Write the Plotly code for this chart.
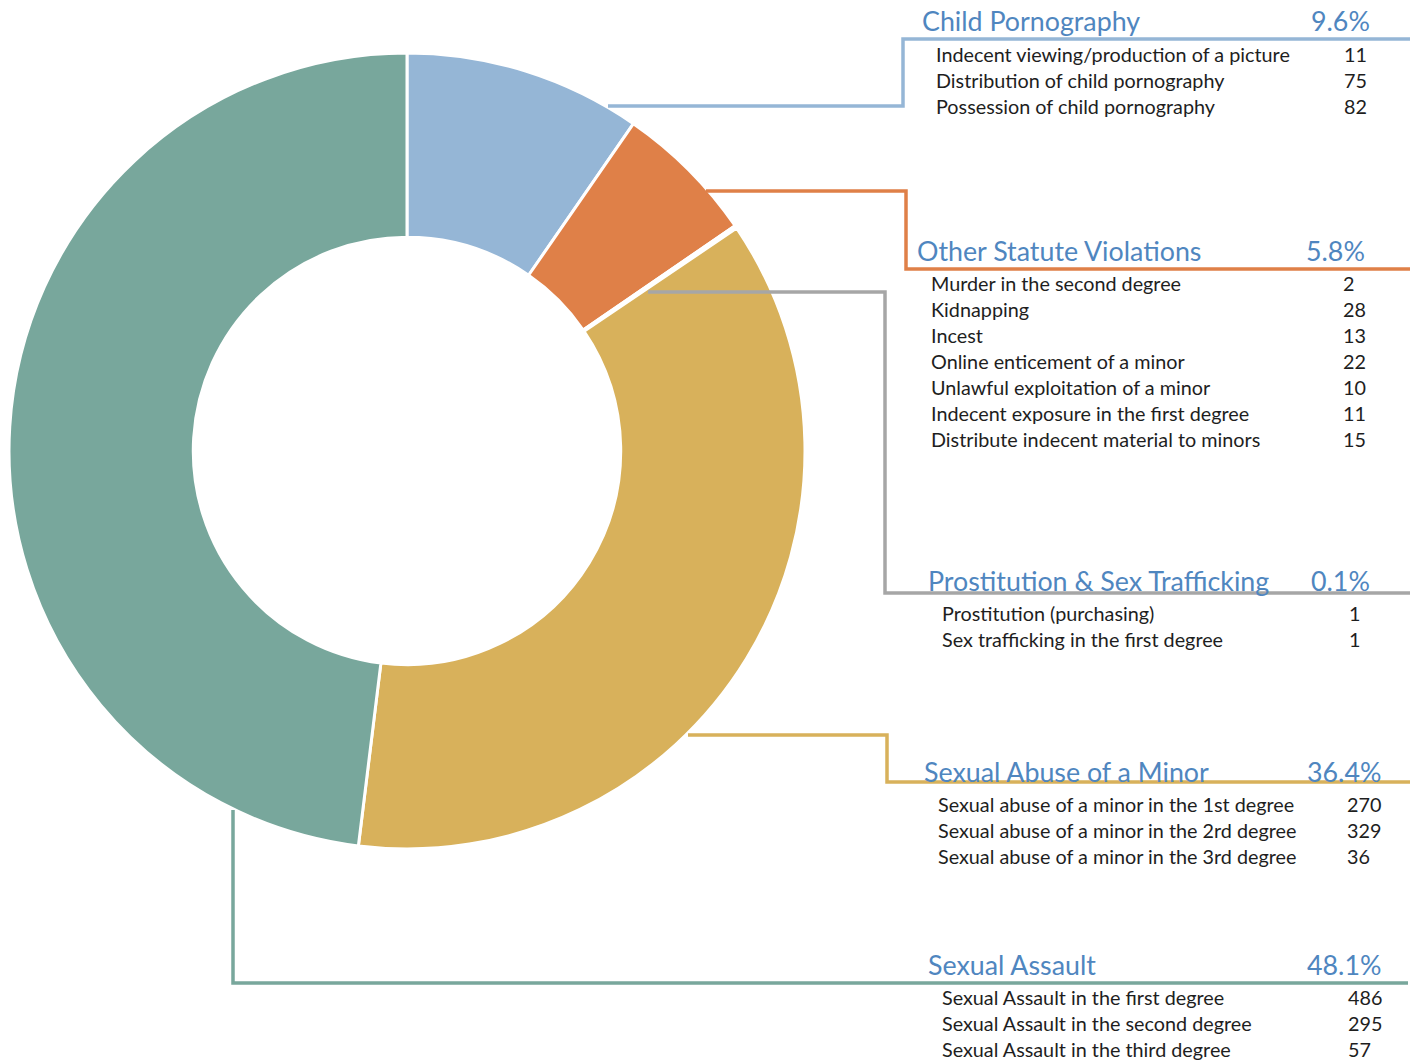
import plotly.graph_objects as go

W, H = 1416, 1064

# Offence groups (clockwise from 12 o'clock) and their detailed counts
groups = ["Child Pornography", "Other Statute Violations", "Prostitution & Sex Trafficking",
          "Sexual Abuse of a Minor", "Sexual Assault"]
group_colors = ["#95b6d6", "#df8048", "#a6a6a6", "#d8b15b", "#78a79c"]

cp_items = ["Indecent viewing/production of a picture", "Distribution of child pornography",
            "Possession of child pornography"]
cp_counts = [11, 75, 82]

other_items = ["Murder in the second degree", "Kidnapping", "Incest", "Online enticement of a minor",
               "Unlawful exploitation of a minor", "Indecent exposure in the first degree",
               "Distribute indecent material to minors"]
other_counts = [2, 28, 13, 22, 10, 11, 15]

prost_items = ["Prostitution (purchasing)", "Sex trafficking in the first degree"]
prost_counts = [1, 1]

sam_items = ["Sexual abuse of a minor in the 1st degree", "Sexual abuse of a minor in the 2rd degree",
             "Sexual abuse of a minor in the 3rd degree"]
sam_counts = [270, 329, 36]

sa_items = ["Sexual Assault in the first degree", "Sexual Assault in the second degree",
            "Sexual Assault in the third degree"]
sa_counts = [486, 295, 57]

item_lists = [cp_items, other_items, prost_items, sam_items, sa_items]
count_lists = [cp_counts, other_counts, prost_counts, sam_counts, sa_counts]
totals = [sum(c) for c in count_lists]
grand = sum(totals)


def px(x):
    return x / W


def py(y):
    return 1 - y / H


FONT = "Lato"
HEAD_COLOR = "#4f86bf"
TEXT_COLOR = "#1e1e1e"
HEAD_SIZE = 26.8
ITEM_SIZE = 19.8

fig = go.Figure()
fig.add_trace(go.Pie(
    labels=groups,
    values=totals,
    sort=False,
    direction="clockwise",
    rotation=0,
    hole=0.537,
    marker=dict(colors=group_colors, line=dict(color="white", width=3)),
    textinfo="none",
    hoverinfo="label+value+percent",
    showlegend=False,
    domain=dict(x=[px(9), px(805)], y=[py(850), py(52)]),
))

# leader-line paths (pixel coords) and label block layout per group
leaders = [
    [(608, 106), (903, 106), (903, 39), (1410, 39)],
    [(706, 191), (906, 191), (906, 269), (1410, 269)],
    [(648, 292), (885, 292), (885, 593), (1410, 593)],
    [(688, 735), (887, 735), (887, 782), (1410, 782)],
    [(233, 810), (233, 983), (1408, 983)],
]
blocks = [  # header left, header y, pct right, item left, first item y, number left
    (922, 21, 1370, 936, 54, 1344),
    (917, 251, 1365, 931, 283, 1343),
    (928, 581, 1370, 942, 613, 1349),
    (924, 772, 1381, 938, 804, 1347),
    (928, 965, 1381, 942, 997, 1348),
]

shapes = []
for pts, col in zip(leaders, group_colors):
    path = "M " + " L ".join(f"{px(x)},{py(y)}" for x, y in pts)
    shapes.append(dict(type="path", xref="paper", yref="paper", path=path,
                       line=dict(color=col, width=3.5)))


def label(x, y, text, anchor, size, color):
    return dict(x=px(x), y=py(y), xref="paper", yref="paper", text=text,
                xanchor=anchor, yanchor="middle", showarrow=False,
                borderpad=0, borderwidth=0,
                font=dict(family=FONT, size=size, color=color))


annotations = []
for g, items, counts, tot, (hx, hy, pr, ix, iy, nx) in zip(
        groups, item_lists, count_lists, totals, blocks):
    annotations.append(label(hx, hy, g, "left", HEAD_SIZE, HEAD_COLOR))
    annotations.append(label(pr, hy, f"{100 * tot / grand:.1f}%", "right", HEAD_SIZE, HEAD_COLOR))
    for k, (name, n) in enumerate(zip(items, counts)):
        y = iy + 26 * k
        annotations.append(label(ix, y, name, "left", ITEM_SIZE, TEXT_COLOR))
        annotations.append(label(nx, y, str(n), "left", ITEM_SIZE, TEXT_COLOR))

fig.update_layout(
    width=W, height=H,
    margin=dict(l=0, r=0, t=0, b=0),
    paper_bgcolor="white", plot_bgcolor="white",
    shapes=shapes, annotations=annotations,
)

fig.write_html("out.html")
